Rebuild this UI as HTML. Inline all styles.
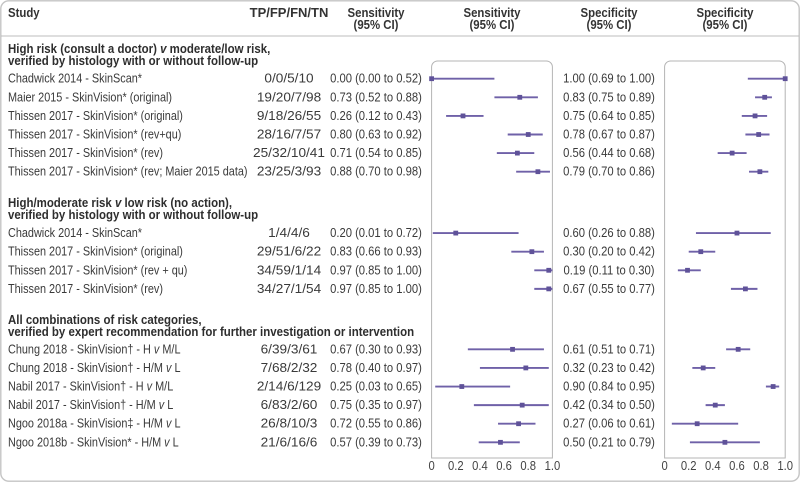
<!DOCTYPE html>
<html lang="en">
<head>
<meta charset="utf-8">
<title>Forest plot of sensitivity and specificity</title>
<style>
html,body{margin:0;padding:0;background:#fff;}
body{width:800px;height:482px;overflow:hidden;}
svg{display:block;font-family:"Liberation Sans",sans-serif;}
text{fill:#3a3a3a;font-size:12.5px;}
.hd{font-weight:bold;fill:#333;font-size:12.5px;}
.sec{font-weight:bold;fill:#2e2e2e;font-size:12.5px;}
.tick{fill:#444;font-size:12.5px;}
</style>
</head>
<body>
<svg id="chart" width="800" height="482" viewBox="0 0 800 482" xmlns="http://www.w3.org/2000/svg">
  <rect x="0.8" y="0.8" width="798.4" height="480.4" rx="8" fill="#fff" stroke="#c4c4c4" stroke-width="1.4"/>
  <line x1="1" y1="36" x2="799" y2="36" stroke="#bdbdbd" stroke-width="1"/>
  <text class="hd" x="8" y="17">Study</text>
  <text class="hd wide" x="289" y="17" text-anchor="middle">TP/FP/FN/TN</text>
  <text class="hd" x="376" y="17" text-anchor="middle">Sensitivity</text>
  <text class="hd" x="376" y="29" text-anchor="middle">(95% CI)</text>
  <text class="hd" x="492" y="17" text-anchor="middle">Sensitivity</text>
  <text class="hd" x="492" y="29" text-anchor="middle">(95% CI)</text>
  <text class="hd" x="609" y="17" text-anchor="middle">Specificity</text>
  <text class="hd" x="609" y="29" text-anchor="middle">(95% CI)</text>
  <text class="hd" x="725" y="17" text-anchor="middle">Specificity</text>
  <text class="hd" x="725" y="29" text-anchor="middle">(95% CI)</text>

  <text class="sec" x="8" y="53">High risk (consult a doctor) <tspan font-style="italic">v</tspan> moderate/low risk,</text>
  <text class="sec" x="8" y="65">verified by histology with or without follow-up</text>
  <text class="sec" x="8" y="207">High/moderate risk <tspan font-style="italic">v</tspan> low risk (no action),</text>
  <text class="sec" x="8" y="219">verified by histology with or without follow-up</text>
  <text class="sec" x="8" y="324">All combinations of risk categories,</text>
  <text class="sec" x="8" y="336">verified by expert recommendation for further investigation or intervention</text>

  <path d="M431.6 458 V67 a6 6 0 0 1 6 -6 H546.4 a6 6 0 0 1 6 6 V458 Z" fill="none" stroke="#b4b4b4" stroke-width="1"/>
  <path d="M664.6 458 V67 a6 6 0 0 1 6 -6 H779.2 a6 6 0 0 1 6 6 V458 Z" fill="none" stroke="#b4b4b4" stroke-width="1"/>
  <g id="rows"></g>
  <g id="ticks"></g>
</svg>
<script>
var studies = [
  "Chadwick 2014 - SkinScan*",
  "Maier 2015 - SkinVision* (original)",
  "Thissen 2017 - SkinVision* (original)",
  "Thissen 2017 - SkinVision* (rev+qu)",
  "Thissen 2017 - SkinVision* (rev)",
  "Thissen 2017 - SkinVision* (rev; Maier 2015 data)",
  "Chadwick 2014 - SkinScan*",
  "Thissen 2017 - SkinVision* (original)",
  "Thissen 2017 - SkinVision* (rev + qu)",
  "Thissen 2017 - SkinVision* (rev)",
  "Chung 2018 - SkinVision† - H |v| M/L",
  "Chung 2018 - SkinVision† - H/M |v| L",
  "Nabil 2017 - SkinVision† - H |v| M/L",
  "Nabil 2017 - SkinVision† - H/M |v| L",
  "Ngoo 2018a - SkinVision‡ - H/M |v| L",
  "Ngoo 2018b - SkinVision* - H/M |v| L"
];
var counts = ["0/0/5/10","19/20/7/98","9/18/26/55","28/16/7/57","25/32/10/41","23/25/3/93","1/4/4/6","29/51/6/22","34/59/1/14","34/27/1/54","6/39/3/61","7/68/2/32","2/14/6/129","6/83/2/60","26/8/10/3","21/6/16/6"];
var rowNumbers = [0,1,2,3,4,5,8.3,9.3,10.3,11.3,14.55,15.55,16.55,17.55,18.55,19.55];
var sensEst = [0.00,0.73,0.26,0.80,0.71,0.88,0.20,0.83,0.97,0.97,0.67,0.78,0.25,0.75,0.72,0.57];
var sensLow = [0.00,0.52,0.12,0.63,0.54,0.70,0.01,0.66,0.85,0.85,0.30,0.40,0.03,0.35,0.55,0.39];
var sensHigh = [0.52,0.88,0.43,0.92,0.85,0.98,0.72,0.93,1.00,1.00,0.93,0.97,0.65,0.97,0.86,0.73];
var specEst = [1.00,0.83,0.75,0.78,0.56,0.79,0.60,0.30,0.19,0.67,0.61,0.32,0.90,0.42,0.27,0.50];
var specLow = [0.69,0.75,0.64,0.67,0.44,0.70,0.26,0.20,0.11,0.55,0.51,0.23,0.84,0.34,0.06,0.21];
var specHigh = [1.00,0.89,0.85,0.87,0.68,0.86,0.88,0.42,0.30,0.77,0.71,0.42,0.95,0.50,0.61,0.79];
var tickValues = [0,0.2,0.4,0.6,0.8,1.0];
var tickLabels = ["0","0.2","0.4","0.6","0.8","1.0"];

var NS = "http://www.w3.org/2000/svg";
function sensX(v){ return 431.6 + v * 120.8; }
function specX(v){ return 664.6 + v * 120.6; }
function rowY(n){ return 78.7 + n * 18.6; }
function fmt(v){ return v.toFixed(2); }
function mk(tag, attrs, parent){
  var el = document.createElementNS(NS, tag);
  for (var k in attrs) el.setAttribute(k, attrs[k]);
  parent.appendChild(el);
  return el;
}
function squeeze(el, ratio){
  var x = parseFloat(el.getAttribute("x"));
  el.setAttribute("transform", "translate(" + x + " 0) scale(" + ratio + " 1) translate(" + (-x) + " 0)");
}
var rowsG = document.getElementById("rows");
var ticksG = document.getElementById("ticks");

function drawInterval(scale, low, high, est, y, parent){
  var line = mk("line", {x1: scale(low), y1: y, x2: scale(high), y2: y, stroke: "#6f61a8", "stroke-width": 1.9}, parent);
  
  
  var pt = mk("rect", {x: scale(est) - 2.4, y: y - 2.4, width: 4.8, height: 4.8, fill: "#5f5299"}, parent);
  
  
}

studies.forEach(function(name, i){
  var y = rowY(rowNumbers[i]);
  var t = mk("text", {x: 8, y: y + 4}, rowsG);
  
  
  name.split("|").forEach(function(part){
    var s = mk("tspan", part === "v" ? {"font-style": "italic"} : {}, t);
    s.textContent = part;
  });
  squeeze(t, 0.87);
  var c = mk("text", {x: 289, y: y + 4, "text-anchor": "middle"}, rowsG);
  
  
  c.textContent = counts[i];
  squeeze(c, 1.09);
  var se = mk("text", {x: 376, y: y + 4, "text-anchor": "middle"}, rowsG);
  
  
  se.textContent = fmt(sensEst[i]) + " (" + fmt(sensLow[i]) + " to " + fmt(sensHigh[i]) + ")";
  squeeze(se, 0.9);
  var sp = mk("text", {x: 609, y: y + 4, "text-anchor": "middle"}, rowsG);
  
  
  sp.textContent = fmt(specEst[i]) + " (" + fmt(specLow[i]) + " to " + fmt(specHigh[i]) + ")";
  squeeze(sp, 0.9);
  drawInterval(sensX, sensLow[i], sensHigh[i], sensEst[i], y, rowsG);
  drawInterval(specX, specLow[i], specHigh[i], specEst[i], y, rowsG);
});

document.querySelectorAll(".hd").forEach(function(el){ squeeze(el, el.classList.contains("wide") ? 1.04 : 0.912); });
document.querySelectorAll(".sec").forEach(function(el){ squeeze(el, 0.917); });

tickValues.forEach(function(v, i){
  var a = mk("text", {x: sensX(v), y: 470, "text-anchor": "middle", "class": "tick"}, ticksG);
  
  
  a.textContent = tickLabels[i];
  squeeze(a, 0.9);
  var b = mk("text", {x: specX(v), y: 470, "text-anchor": "middle", "class": "tick"}, ticksG);
  
  
  b.textContent = tickLabels[i];
  squeeze(b, 0.9);
});
</script>
</body>
</html>
